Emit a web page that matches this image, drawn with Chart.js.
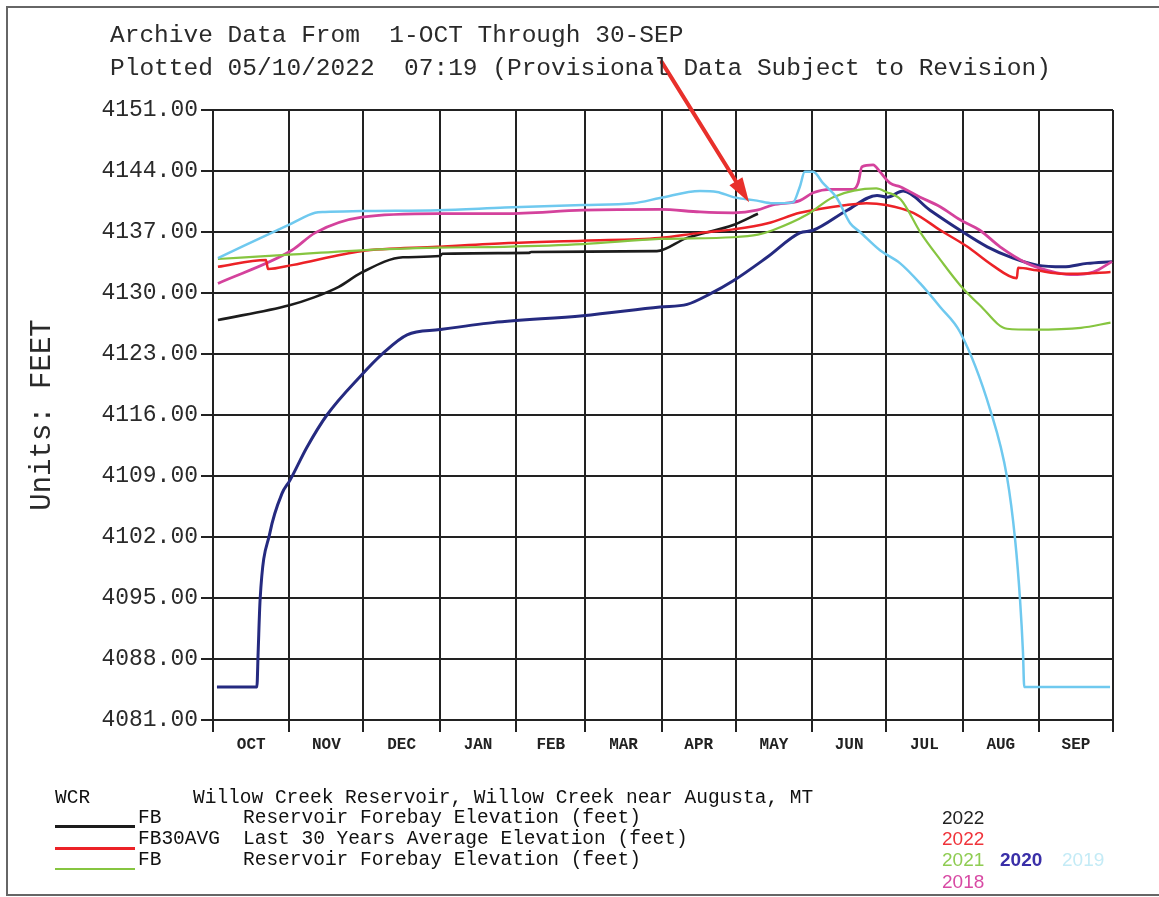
<!DOCTYPE html>
<html>
<head>
<meta charset="utf-8">
<title>Willow Creek Reservoir</title>
<script src="https://cdn.jsdelivr.net/npm/chart.js@4.4.0/dist/chart.umd.min.js"></script>
<style>
  body { margin: 0; background: #fff; }
  #wrap { position: relative; width: 1159px; height: 897px; overflow: hidden; }
  #frame { position: absolute; left: 6px; top: 6px; width: 1170px; height: 886px;
           border-left: 2px solid #666; border-top: 2px solid #666; border-bottom: 2px solid #666; }
  canvas { position: absolute; left: 0; top: 0; }
  .t { position: absolute; font-family: "Liberation Mono", "Courier New", monospace; white-space: pre; color: #2a2a2a; }
  .head { font-size: 24.5px; line-height: 28px; left: 110px; }
  .leg { font-size: 19.5px; line-height: 22px; color: #111; }
  .yr { position: absolute; font-family: "Liberation Sans", Arial, sans-serif; font-size: 19px; line-height: 22px; }
  .ln { position: absolute; left: 55px; width: 80px; }
</style>
</head>
<body>
<div id="wrap">
  <div id="frame"></div>
  <canvas id="chart" width="1159" height="897"></canvas>

  <div class="t head" style="top:22px">Archive Data From  1-OCT Through 30-SEP</div>
  <div class="t head" style="top:55px">Plotted 05/10/2022  07:19 (Provisional Data Subject to Revision)</div>

  <div class="t leg" style="left:55px;top:787px">WCR</div>
  <div class="t leg" style="left:193px;top:787px">Willow Creek Reservoir, Willow Creek near Augusta, MT</div>

  <div class="ln" style="top:825px;height:3px;background:#1c1c1c"></div>
  <div class="t leg" style="left:138px;top:807px">FB</div>
  <div class="t leg" style="left:243px;top:807px">Reservoir Forebay Elevation (feet)</div>
  <div class="yr" style="left:942px;top:807px;color:#222">2022</div>

  <div class="ln" style="top:847px;height:3px;background:#ec2227"></div>
  <div class="t leg" style="left:138px;top:828px">FB30AVG</div>
  <div class="t leg" style="left:243px;top:828px">Last 30 Years Average Elevation (feet)</div>
  <div class="yr" style="left:942px;top:828px;color:#f0333a">2022</div>

  <div class="ln" style="top:868px;height:2px;background:#86c540"></div>
  <div class="t leg" style="left:138px;top:849px">FB</div>
  <div class="t leg" style="left:243px;top:849px">Reservoir Forebay Elevation (feet)</div>
  <div class="yr" style="left:942px;top:849px;color:#8fcc52">2021</div>
  <div class="yr" style="left:1000px;top:849px;color:#3a2fa8;font-weight:bold">2020</div>
  <div class="yr" style="left:1062px;top:849px;color:#c4ebf6">2019</div>
  <div class="yr" style="left:942px;top:871px;color:#d84aa4">2018</div>
</div>

<script>
// month axis (water year, Oct - Sep), x is day of water year
const monthNames = ['OCT', 'NOV', 'DEC', 'JAN', 'FEB', 'MAR', 'APR', 'MAY', 'JUN', 'JUL', 'AUG', 'SEP'];
const monthDays = [31, 30, 31, 31, 28, 31, 30, 31, 30, 31, 31, 30];
const elevTicks = [4081, 4088, 4095, 4102, 4109, 4116, 4123, 4130, 4137, 4144, 4151];

// 2022 forebay elevation (black)
const fb2022Days = [2, 31, 41, 51, 60, 77, 92, 93, 128, 129, 180, 192, 211, 221];
const fb2022Elev = [4126.9, 4128.6, 4129.5, 4130.7, 4132.3, 4134.1, 4134.25, 4134.5, 4134.6, 4134.7, 4134.8, 4136.3, 4137.8, 4139.1];

// last 30 years average (red)
const avg30Days = [2, 21.5, 22.3, 32, 60, 91, 118, 150, 181, 197.5, 211, 225, 238, 257, 265, 273, 284, 295, 306, 316, 326, 326.5, 334, 345, 358, 364];
const avg30Elev = [4133.0, 4133.8, 4132.75, 4133.2, 4134.8, 4135.3, 4135.7, 4136.0, 4136.3, 4136.9, 4137.3, 4138.0, 4139.2, 4140.1, 4140.3, 4140.1, 4139.2, 4137.2, 4135.3, 4133.2, 4131.7, 4132.9, 4132.6, 4132.2, 4132.3, 4132.4];

// 2021 (green)
const fb2021Days = [2, 31, 60, 91, 118, 150, 181, 211, 221, 227, 241, 251.5, 269, 273, 279, 287, 295, 303, 311, 322, 333, 352, 364];
const fb2021Elev = [4133.9, 4134.4, 4134.9, 4135.2, 4135.3, 4135.6, 4136.2, 4136.4, 4136.7, 4137.2, 4139.0, 4141.0, 4142.0, 4141.6, 4140.7, 4136.9, 4133.8, 4130.9, 4128.6, 4125.9, 4125.8, 4126.0, 4126.6];

// 2020 (navy)
const fb2020Days = [1.6, 17.8, 18.3, 19.1, 23.1, 28, 31.2, 38.1, 46.2, 59.6, 69, 78.7, 92, 113.6, 150, 181.3, 192.3, 201.6, 211, 224.7, 238, 243.4, 257.2, 269.3, 273.4, 279.9, 290.8, 303, 314, 324.5, 334.2, 344.8, 354.5, 364.6];
const fb2020Elev = [4084.8, 4084.8, 4088.7, 4094.8, 4102.5, 4107.0, 4108.5, 4112.3, 4116.0, 4120.4, 4123.1, 4125.2, 4125.8, 4126.6, 4127.4, 4128.4, 4128.7, 4129.9, 4131.4, 4134.1, 4136.9, 4137.2, 4139.5, 4141.2, 4141.0, 4141.7, 4139.5, 4137.2, 4135.3, 4134.0, 4133.2, 4133.0, 4133.4, 4133.6];

// 2019 (light blue)
const fb2019Days = [2, 32, 41.4, 45.4, 60.4, 91.3, 118.4, 150, 170.4, 181.3, 197.5, 204.4, 211, 220.6, 227, 235.2, 238, 240, 243.4, 247.4, 253, 258.4, 262.4, 270.5, 278.7, 286.8, 294.9, 303, 315.2, 322, 325.3, 327.3, 328.5, 329, 363.8];
const fb2019Elev = [4134.0, 4138.0, 4139.2, 4139.3, 4139.4, 4139.5, 4139.8, 4140.1, 4140.3, 4140.9, 4141.7, 4141.6, 4141.0, 4140.6, 4140.3, 4140.4, 4142.2, 4143.9, 4143.9, 4142.6, 4140.9, 4138.0, 4137.0, 4134.9, 4133.4, 4131.1, 4128.4, 4125.5, 4116.6, 4108.9, 4101.7, 4094.8, 4088.7, 4084.8, 4084.8];

// 2018 (magenta)
const fb2018Days = [2, 32, 41.4, 60.4, 91.3, 118.4, 150, 181.3, 197.5, 211, 220.6, 227, 238, 243.4, 250.3, 259.6, 261.6, 263.2, 267.7, 270.5, 274.6, 278.7, 286.8, 294.9, 303, 311, 319.2, 330.2, 338.3, 347.6, 357, 364.6];
const fb2018Elev = [4131.1, 4134.9, 4136.9, 4138.7, 4139.1, 4139.1, 4139.5, 4139.6, 4139.3, 4139.2, 4139.5, 4140.1, 4140.6, 4141.5, 4141.9, 4141.9, 4142.6, 4144.5, 4144.7, 4143.9, 4142.6, 4142.2, 4141.0, 4139.9, 4138.4, 4137.2, 4135.3, 4133.4, 4132.6, 4132.1, 4132.4, 4133.6];

// month boundaries + month centres -> alternating tick list
const xTicks = [0];
let acc = 0;
monthDays.forEach(d => {
  xTicks.push(acc + d / 2);
  acc += d;
  xTicks.push(acc);
});

function pts(days, elev) {
  return days.map((d, i) => ({ x: d, y: elev[i] }));
}

function line(data, color, width) {
  return {
    data: data,
    borderColor: color,
    borderWidth: width,
    pointRadius: 0,
    cubicInterpolationMode: 'monotone',
    fill: false
  };
}

// hand drawn red arrow on the scan (annotation, in axis units)
const arrowFrom = { x: 182, y: 4156.5 };
const arrowTo = { x: 217.4, y: 4140.4 };

const arrowPlugin = {
  id: 'arrow',
  afterDraw(chart) {
    const xs = chart.scales.x, ys = chart.scales.y;
    const c = chart.ctx;
    const x1 = xs.getPixelForValue(arrowFrom.x), y1 = ys.getPixelForValue(arrowFrom.y);
    const x2 = xs.getPixelForValue(arrowTo.x), y2 = ys.getPixelForValue(arrowTo.y);
    const a = Math.atan2(y2 - y1, x2 - x1);
    const head = 26;
    c.save();
    c.strokeStyle = '#e8302b';
    c.fillStyle = '#e8302b';
    c.lineWidth = 4;
    c.lineCap = 'round';
    c.beginPath();
    c.moveTo(x1, y1);
    c.lineTo(x2 - Math.cos(a) * head * 0.8, y2 - Math.sin(a) * head * 0.8);
    c.stroke();
    c.beginPath();
    c.moveTo(x2, y2);
    c.lineTo(x2 - head * Math.cos(a - 0.3), y2 - head * Math.sin(a - 0.3));
    c.lineTo(x2 - head * Math.cos(a + 0.3), y2 - head * Math.sin(a + 0.3));
    c.closePath();
    c.fill();
    c.restore();
  }
};

const ctx = document.getElementById('chart').getContext('2d');
const chart = new Chart(ctx, {
  type: 'line',
  data: {
    datasets: [
      line(pts(fb2019Days, fb2019Elev), '#6fc9ef', 2.5),
      line(pts(fb2021Days, fb2021Elev), '#86c540', 2.2),
      line(pts(avg30Days, avg30Elev), '#ec2227', 2.5),
      line(pts(fb2018Days, fb2018Elev), '#d4429c', 2.8),
      line(pts(fb2020Days, fb2020Elev), '#252a80', 3),
      line(pts(fb2022Days, fb2022Elev), '#1c1c1c', 2.6)
    ]
  },
  options: {
    responsive: false,
    animation: false,
    devicePixelRatio: 1,
    layout: { padding: { top: 110, right: 46, left: 0, bottom: 0 } },
    plugins: { legend: { display: false }, tooltip: { enabled: false } },
    scales: {
      x: {
        type: 'linear',
        min: 0,
        max: 365,
        afterFit: s => { s.height = 177; },
        afterBuildTicks: s => { s.ticks = xTicks.map(v => ({ value: v })); },
        border: { display: true, color: '#222', width: 2 },
        grid: {
          color: c => (c.index % 2 === 0 ? '#222' : 'rgba(0,0,0,0)'),
          lineWidth: 2,
          tickLength: 12,
          drawTicks: true
        },
        ticks: {
          autoSkip: false,
          maxRotation: 0,
          padding: 3,
          color: '#222',
          font: { family: 'Liberation Mono', size: 16, weight: 'bold' },
          callback: (v, i) => (i % 2 === 1 ? monthNames[(i - 1) / 2] : '')
        }
      },
      y: {
        min: 4081,
        max: 4151,
        afterFit: s => { s.width = 213; },
        afterBuildTicks: s => { s.ticks = elevTicks.map(v => ({ value: v })); },
        border: { display: true, color: '#222', width: 2 },
        grid: { color: '#222', lineWidth: 2, tickLength: 12 },
        ticks: {
          padding: 3,
          color: '#2a2a2a',
          font: { family: 'Liberation Mono', size: 23 },
          callback: v => v.toFixed(2)
        },
        title: {
          display: true,
          text: 'Units: FEET',
          color: '#2a2a2a',
          font: { family: 'Liberation Mono', size: 29 },
          padding: { top: 25, bottom: 0 }
        }
      }
    }
  },
  plugins: [arrowPlugin]
});
</script>
</body>
</html>
